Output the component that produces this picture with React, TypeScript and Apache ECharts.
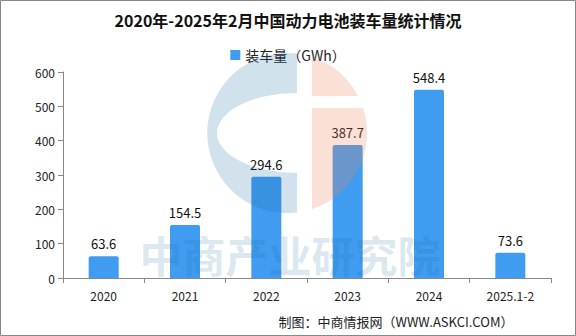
import React, { useEffect, useRef } from "react";
import * as echarts from "echarts";

const titleText = "2020年-2025年2月中国动力电池装车量统计情况";
const seriesName = "装车量（GWh）";
const categories = ["2020", "2021", "2022", "2023", "2024", "2025.1-2"];
const values = [63.6, 154.5, 294.6, 387.7, 548.4, 73.6];
const footerText = "制图：中商情报网（WWW.ASKCI.COM）";
const watermarkText = "中商产业研究院";

const blueD = "M297,53.6 A80,80 0 1 0 297,212.4 L297,173 A80,40 0 0 1 297,93 Z";
const orangeTopD = "M312,57 A80,80 0 0 1 358,96 L312,96 Z";
const orangeBotD = "M312,108 L363,108 A80,80 0 0 1 312,209 Z";

let registered = false;
function registerShapes() {
  if (registered) return;
  registered = true;
  echarts.graphic.registerShape("wmBlue", echarts.graphic.extendPath(blueD, {}) as any);
  echarts.graphic.registerShape("wmOrangeTop", echarts.graphic.extendPath(orangeTopD, {}) as any);
  echarts.graphic.registerShape("wmOrangeBot", echarts.graphic.extendPath(orangeBotD, {}) as any);
}

export default function App() {
  const ref = useRef<HTMLDivElement>(null);
  useEffect(() => {
    if (!ref.current) return;
    registerShapes();
    const chart = echarts.init(ref.current, null, { renderer: "svg" });
    const font = "'Noto Sans CJK SC', 'Noto Sans', sans-serif";
    chart.setOption({
      animation: false,
      backgroundColor: "#ffffff",
      title: {
        text: titleText,
        left: "center",
        top: 7,
        textStyle: { fontFamily: font, fontSize: 16, fontWeight: "bold", color: "#111" },
      },
      legend: {
        top: 43,
        left: "center",
        itemWidth: 10,
        itemHeight: 10,
        itemGap: 4,
        icon: "rect",
        textStyle: { fontFamily: font, fontSize: 14, color: "#222" },
        data: [seriesName],
      },
      grid: { left: 63, right: 25, top: 72, bottom: 58 },
      xAxis: {
        type: "category",
        data: categories,
        axisLine: { lineStyle: { color: "#888" } },
        axisTick: { show: true, length: 5, lineStyle: { color: "#888" } },
        axisLabel: { fontFamily: font, fontSize: 12, color: "#222", margin: 11 },
      },
      yAxis: {
        type: "value",
        min: 0,
        max: 600,
        interval: 100,
        axisLine: { show: true, lineStyle: { color: "#888" } },
        axisTick: { show: true, length: 5, lineStyle: { color: "#888" } },
        splitLine: { show: false },
        axisLabel: { fontFamily: font, fontSize: 12, color: "#222", margin: 8 },
      },
      series: [
        {
          name: seriesName,
          type: "bar",
          data: values,
          barWidth: 30,
          itemStyle: { color: "#3f9cf0", borderRadius: [2, 2, 0, 0] },
          label: {
            show: true,
            position: "top",
            distance: 6,
            fontFamily: font,
            fontSize: 13,
            color: "#111",
          },
        },
      ],
      graphic: [
        {
          type: "wmBlue",
          z: 100,
          silent: true,
          style: { fill: "rgba(30,110,160,0.2)" },
        },
        {
          type: "wmOrangeTop",
          z: 100,
          silent: true,
          style: { fill: "rgba(235,131,91,0.25)" },
        },
        {
          type: "wmOrangeBot",
          z: 100,
          silent: true,
          style: { fill: "rgba(235,131,91,0.25)" },
        },
        {
          type: "text",
          z: 100,
          silent: true,
          x: 290,
          y: 254,
          style: {
            text: watermarkText,
            fontFamily: font,
            fontSize: 43,
            fontWeight: "bold",
            fill: "rgba(30,110,160,0.18)",
            align: "center",
            verticalAlign: "middle",
            lineHeight: 43,
          },
        },
        {
          type: "text",
          x: 396,
          y: 321,
          style: {
            text: footerText,
            fontFamily: font,
            fontSize: 13,
            fill: "#222",
            align: "center",
            verticalAlign: "middle",
          },
        },
        {
          type: "rect",
          z: 110,
          silent: true,
          shape: { x: 0.5, y: 0.5, width: 575, height: 335 },
          style: { fill: "none", stroke: "#888", lineWidth: 1 },
        },
      ],
    });
    return () => chart.dispose();
  }, []);
  return (
    <div
      ref={ref}
      style={{ position: "fixed", left: 0, top: 0, width: 576, height: 336 }}
    />
  );
}
